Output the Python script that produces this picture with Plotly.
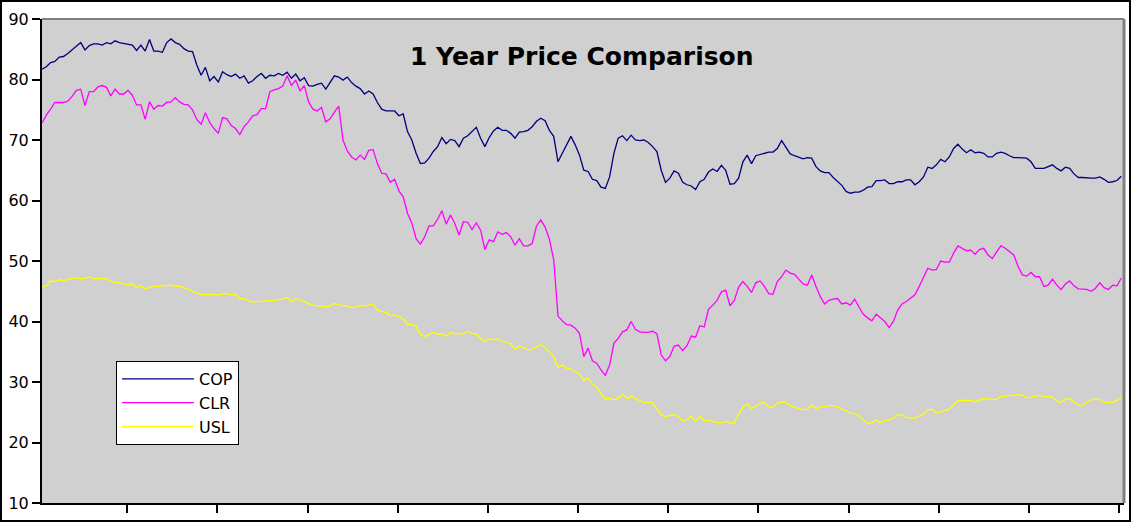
import plotly.graph_objects as go

# Daily closing prices (trading-day index 0..251)
cop = [81.7, 82.1, 82.8, 83.0, 83.7, 83.8, 84.3, 84.9, 85.4, 86.1, 84.9, 85.6, 85.9, 85.9, 85.7, 86.1,
       85.9, 86.4, 86.1, 86.0, 85.9, 85.7, 84.8, 85.7, 84.7, 86.6, 84.7, 84.7, 84.5, 86.1, 86.7, 86.1,
       85.8, 85.1, 84.7, 84.6, 82.4, 80.7, 82.0, 79.8, 80.5, 79.6, 81.3, 80.8, 80.5, 80.9, 80.2, 80.6,
       79.4, 79.8, 80.5, 81.0, 80.2, 80.7, 80.6, 81.0, 80.7, 81.2, 80.2, 80.9, 79.8, 80.3, 79.0, 78.9,
       79.2,
       79.4, 78.4, 79.6, 80.6, 80.4, 79.9, 80.4, 79.5, 78.9, 78.5, 77.6, 78.1, 77.6, 76.2, 75.1, 74.8,
       74.8, 74.8, 74.0, 74.3, 71.4, 70.0, 67.8, 66.1, 66.2, 67.0, 68.1, 68.9, 70.4, 69.4, 70.1, 69.9,
       68.9, 70.3, 70.7, 71.4, 72.1, 70.3, 68.9, 70.4, 71.5, 72.1, 71.6, 71.6, 71.1, 70.3, 71.3, 71.4,
       71.6, 72.2, 73.1, 73.6, 73.2, 71.6, 70.6, 66.4, 67.8, 69.3, 70.6, 69.2, 67.5, 65.0, 64.8,
       63.5, 63.3, 62.2, 62.0, 63.9, 67.8, 70.3, 70.7, 69.9, 70.8, 70.0, 69.9, 70.0, 69.6, 68.9, 68.1,
       65.0, 63.0, 63.7, 64.9, 64.5, 63.0, 62.6, 62.4, 61.8, 63.1, 63.5, 64.7, 65.2, 64.8, 65.8, 65.0,
       62.7, 62.8, 63.7, 66.4, 67.5, 66.1, 67.4, 67.6, 67.9, 68.0, 68.0, 68.6, 69.9, 68.9, 67.7, 67.4,
       67.2, 66.9, 67.1, 67.0, 65.6, 64.9, 64.6, 64.6, 63.8, 63.1, 62.5, 61.5, 61.2, 61.4, 61.4,
       61.7, 62.2, 62.3, 63.3, 63.3, 63.4, 62.8, 62.8, 63.1, 63.1, 63.4, 63.4, 62.6, 63.1, 63.9, 65.5,
       65.3, 65.9, 66.8, 66.4, 67.2, 68.6, 69.3, 68.5, 67.9, 68.4, 67.9, 68.0, 67.8, 67.2, 67.2, 67.8,
       68.0, 67.8, 67.4, 67.1, 67.1, 67.0, 67.0, 66.4, 65.3, 65.3, 65.3, 65.6, 65.9, 65.3, 64.9, 65.5,
       65.3, 64.4, 63.8, 63.8, 63.7, 63.7, 63.7, 63.9, 63.5, 63.0, 63.1, 63.3, 64.0]

clr = [72.8, 74.1, 75.1, 76.2, 76.2, 76.2, 76.4, 77.2, 78.2, 78.4, 75.7, 78.0, 78.0, 78.8, 79.0, 78.7,
       77.3, 78.4, 77.6, 77.6, 78.2, 77.4, 75.8, 75.8, 73.4, 76.3, 75.1, 75.7, 75.6, 76.2, 76.3, 77.0,
       76.3, 75.9, 75.8, 75.0, 73.4, 72.6, 74.5, 72.9, 71.9, 71.1, 73.7, 73.5, 72.4, 71.9, 70.9, 72.2,
       73.0, 74.0, 74.2, 75.2, 75.2, 78.0, 78.3, 78.5, 78.9, 80.6, 79.0, 79.9, 78.1, 79.0, 76.3, 75.1,
       74.8,
       75.4, 73.0, 73.5, 74.6, 75.6, 70.0, 68.2, 67.2, 66.7, 67.5, 66.8, 68.3, 68.4, 66.1, 64.5, 64.4,
       63.0, 63.5, 61.6, 60.6, 57.9, 56.3, 53.7, 52.8, 54.0, 55.8, 55.8, 56.9, 58.3, 56.1, 57.6, 56.2,
       54.3, 56.5, 56.4, 55.2, 56.3, 55.1, 51.9, 53.5, 53.2, 54.8, 54.4, 54.7, 54.0, 52.6, 53.7, 52.5,
       52.5, 52.9, 55.8, 56.8, 55.6, 53.6, 50.2, 40.9, 40.1, 39.5, 39.4, 38.9, 38.0, 34.2, 35.6,
       33.5, 33.1, 32.0, 31.1, 32.8, 36.4, 37.2, 38.3, 38.6, 40.0, 38.7, 38.3, 38.2, 38.2, 38.4, 38.0,
       34.5, 33.5, 34.2, 35.9, 36.1, 35.2, 36.0, 37.6, 37.4, 39.3, 39.1, 42.0, 42.7, 43.5, 44.9, 45.2,
       42.6, 43.5, 45.7, 46.6, 45.8, 44.8, 46.4, 46.7, 45.8, 44.6, 44.5, 46.6, 47.4, 48.5, 48.0, 47.8,
       47.0, 46.2, 46.0, 47.7, 45.8, 44.1, 42.9, 43.5, 43.7, 43.8, 42.9, 43.1, 42.7, 43.7, 42.4,
       41.2, 40.6, 40.1, 41.2, 40.6, 40.0, 39.0, 40.0, 41.9, 42.9, 43.3, 43.8, 44.4, 45.8, 47.2, 48.8,
       48.5, 48.6, 50.0, 49.8, 49.8, 51.3, 52.5, 52.1, 51.7, 51.8, 51.1, 51.9, 52.1, 51.0, 50.4, 51.5,
       52.5, 52.1, 51.6, 51.0, 49.1, 47.7, 47.5, 48.1, 47.4, 47.4, 45.8, 46.0, 47.0, 46.0, 45.3, 46.2,
       46.7, 45.9, 45.4, 45.3, 45.3, 45.0, 45.5, 46.4, 45.6, 45.3, 46.0, 45.9, 47.2]

usl = [45.8, 45.9, 46.7, 46.6, 46.9, 46.7, 47.0, 47.1, 47.2, 47.1, 47.1, 47.4, 47.1, 47.1, 47.1, 47.1,
       46.6, 46.5, 46.5, 46.3, 46.0, 46.2, 45.6, 45.9, 45.4, 45.6, 45.8, 45.8, 45.9, 46.0, 46.0, 45.8,
       45.9, 45.6, 45.3, 45.0, 44.7, 44.4, 44.5, 44.4, 44.4, 44.4, 44.5, 44.6, 44.4, 44.5, 43.7, 43.8,
       43.4, 43.2, 43.3, 43.4, 43.4, 43.4, 43.5, 43.5, 43.7, 44.0, 43.2, 43.8, 43.5, 43.3, 43.0, 42.7,
       42.6,
       42.6, 42.4, 42.6, 43.0, 42.8, 42.6, 42.6, 42.3, 42.4, 42.6, 42.6, 42.7, 42.9, 41.8, 41.6, 41.5,
       40.9, 41.1, 40.8, 40.4, 39.5, 39.5, 39.2, 37.9, 37.5, 37.9, 38.2, 37.9, 38.0, 37.6, 38.2, 38.0,
       37.9, 37.9, 38.4, 38.0, 37.9, 37.2, 36.7, 37.1, 37.0, 37.1, 36.7, 36.6, 36.3, 35.4, 36.0, 35.7,
       35.3, 35.4, 35.8, 36.2, 35.7, 35.0, 34.2, 32.4, 32.8, 32.3, 32.1, 31.7, 31.3, 30.3, 30.6,
       29.7, 29.1, 28.1, 27.2, 27.3, 27.1, 27.3, 28.0, 27.3, 27.7, 27.3, 26.9, 26.6, 26.7, 26.6, 25.6,
       24.6, 24.3, 24.5, 24.6, 24.3, 23.6, 23.8, 24.3, 23.5, 24.4, 23.6, 23.7, 23.5, 23.3, 23.3, 23.5,
       23.2, 23.3, 24.7, 25.9, 26.4, 25.6, 26.0, 26.5, 26.6, 25.9, 25.8, 26.5, 26.7, 26.6, 26.1, 25.9,
       25.6, 25.4, 25.5, 26.2, 25.6, 25.9, 25.9, 26.1, 26.1, 25.9, 25.5, 25.3, 24.8, 24.8, 24.4,
       23.7, 23.1, 23.3, 23.7, 23.3, 23.7, 23.7, 24.0, 24.6, 24.5, 24.1, 24.1, 24.0, 24.4, 24.7, 25.4,
       25.5, 24.8, 25.1, 25.3, 25.5, 26.2, 26.9, 27.0, 26.9, 27.0, 26.7, 27.0, 27.3, 27.2, 27.1, 27.1,
       27.6, 27.7, 27.7, 27.8, 27.9, 27.8, 27.4, 27.5, 27.7, 27.8, 27.6, 27.6, 27.5, 26.9, 26.6, 27.2,
       27.2, 26.7, 26.2, 26.1, 26.7, 27.0, 27.2, 27.1, 26.6, 26.7, 26.6, 27.0, 27.4]

series_names = ["COP", "CLR", "USL"]
series_colors = ["#000080", "#ff00ff", "#ffff00"]
month_ticks = [19.8, 40.8, 61.8, 82.7, 103.7, 124.7, 145.6, 166.6, 187.6, 208.6, 229.5, 250.5]
y_ticks = [10, 20, 30, 40, 50, 60, 70, 80, 90]

days = list(range(len(cop)))
FONT = "DejaVu Sans"

fig = go.Figure()
for name, vals, col in zip(series_names, [cop, clr, usl], series_colors):
    fig.add_trace(go.Scatter(x=days, y=vals, mode="lines", name=name,
                             line=dict(color=col, width=1.3)))

W, H = 1132, 523
ml, mr, mt, mb = 42, 8, 19, 20
pw, ph = W - ml - mr, H - mt - mb

fig.update_layout(
    width=W, height=H,
    margin=dict(l=ml, r=mr, t=mt, b=mb, pad=0),
    paper_bgcolor="white",
    plot_bgcolor="#d0d0d0",
    font=dict(family=FONT, size=16, color="black"),
    showlegend=True,
    legend=dict(x=(116 - ml) / pw, y=(H - mb - 361) / ph, xanchor="left", yanchor="top",
                bgcolor="white", bordercolor="black", borderwidth=1,
                font=dict(family=FONT, size=16, color="black"),
                itemwidth=72, tracegroupgap=0),
    xaxis=dict(range=[0, (W - ml - mr) / 4.3], showgrid=False, zeroline=False,
               showline=True, linecolor="black", linewidth=2,
               tickmode="array", tickvals=month_ticks, ticktext=[""] * len(month_ticks),
               ticks="outside", ticklen=8, tickwidth=1.5, tickcolor="black"),
    yaxis=dict(range=[10, 90], showgrid=False, zeroline=False,
               showline=True, linecolor="black", linewidth=2,
               tickmode="array", tickvals=y_ticks,
               ticks="outside", ticklen=8, tickwidth=1.5, tickcolor="black",
               tickfont=dict(family=FONT, size=16, color="black")),
    annotations=[dict(text="<b>1 Year Price Comparison</b>", xref="paper", yref="paper",
                      x=(582 - ml) / pw, y=(H - mb - 56) / ph, xanchor="center", yanchor="middle",
                      showarrow=False, font=dict(family=FONT, size=25, color="black"))],
    shapes=[
        dict(type="line", xref="paper", yref="paper", x0=0, x1=1, y0=1, y1=1,
             line=dict(color="#808080", width=2)),
        dict(type="line", xref="paper", yref="paper", x0=1, x1=1, y0=0, y1=1,
             line=dict(color="#808080", width=3)),
        dict(type="rect", xref="paper", yref="paper",
             x0=(1 - ml) / pw, x1=(W - 2 - ml) / pw,
             y0=(H - mb - (H - 2)) / ph, y1=(H - mb - 1) / ph,
             line=dict(color="black", width=2), fillcolor="rgba(0,0,0,0)", layer="above"),
    ],
)

fig.write_html("out.html", config={"displayModeBar": False},
               post_script="document.body.style.margin='0';document.body.style.overflow='hidden';")
